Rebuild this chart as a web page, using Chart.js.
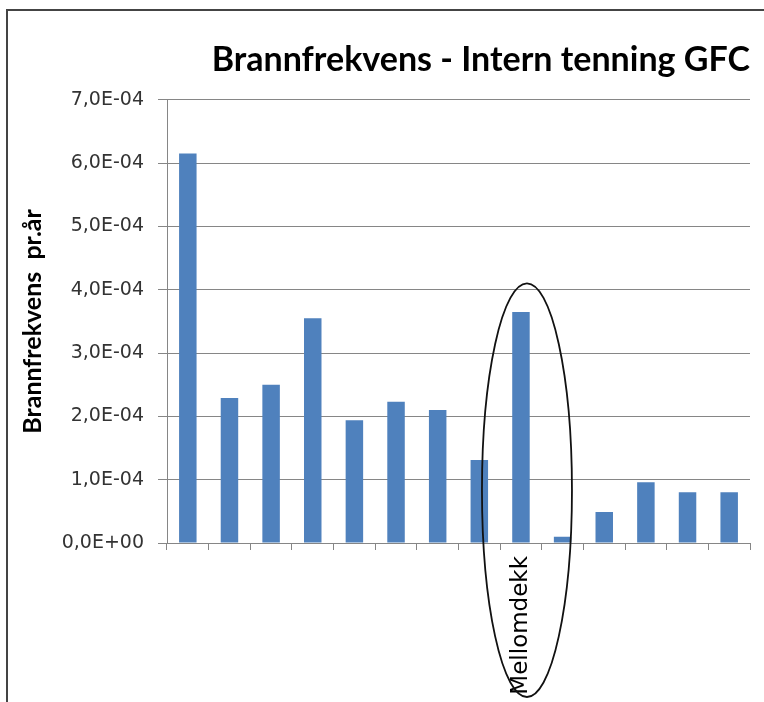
<!DOCTYPE html>
<html>
<head>
<meta charset="utf-8">
<script src="https://cdn.jsdelivr.net/npm/chart.js@4"></script>
<style>
  html, body { margin: 0; padding: 0; background: #fff; overflow: hidden; }
  #wrap { position: relative; width: 764px; height: 702px; overflow: hidden; }
  #frame { position: absolute; left: 6px; top: 9px; width: 800px; height: 800px; border: 2px solid #444; }
  canvas { position: absolute; left: 0; top: 0; }
</style>
</head>
<body>
<div id="wrap">
  <div id="frame"></div>
  <canvas id="fireChart" width="764" height="702"></canvas>
</div>
<script>
const labels = ["", "", "", "", "", "", "", "", "Mellomdekk", "", "", "", "", ""];
const freq = [6.15e-4, 2.29e-4, 2.5e-4, 3.55e-4, 1.94e-4, 2.23e-4, 2.1e-4, 1.31e-4, 3.65e-4, 0.1e-4, 0.49e-4, 0.96e-4, 0.8e-4, 0.8e-4];
const yTicks = ["0,0E+00", "1,0E-04", "2,0E-04", "3,0E-04", "4,0E-04", "5,0E-04", "6,0E-04", "7,0E-04"];

// ring drawn around the Mellomdekk bar
const ellipsePlugin = {
  id: "ellipse",
  afterDraw(chart) {
    const x = chart.scales.x, y = chart.scales.y;
    const c = chart.ctx;
    const cx = x.getPixelForValue(8) + 6;
    const top = y.getPixelForValue(4.1e-4);
    const bottom = 697;
    c.save();
    c.beginPath();
    c.ellipse(cx, (top + bottom) / 2, 45, (bottom - top) / 2, 0, 0, Math.PI * 2);
    c.strokeStyle = "#111";
    c.lineWidth = 1.8;
    c.stroke();
    c.restore();
  }
};

const ctx = document.getElementById("fireChart").getContext("2d");
new Chart(ctx, {
  type: "bar",
  data: {
    labels: labels,
    datasets: [{
      data: freq,
      backgroundColor: "#4F81BD",
      categoryPercentage: 1,
      barPercentage: 0.42,
    }],
  },
  options: {
    responsive: false,
    animation: false,
    layout: { padding: { left: 0, right: 14, top: 0, bottom: 0 } },
    plugins: {
      legend: { display: false },
      tooltip: { enabled: false },
      title: {
        display: true,
        text: "Brannfrekvens - Intern tenning GFC",
        align: "end",
        color: "#000",
        font: { family: "Lato", size: 34, weight: "bold" },
        padding: { top: 40, bottom: 19 },
      },
    },
    scales: {
      x: {
        grid: { drawOnChartArea: false, color: "#868686", tickLength: 7 },
        border: { color: "#868686" },
        ticks: {
          autoSkip: false,
          maxRotation: 90,
          minRotation: 90,
          padding: 6,
          color: "#000",
          font: { family: "DejaVu Sans", size: 23 },
        },
        afterFit(scale) { scale.height = 159; },
      },
      y: {
        min: 0,
        max: 7e-4,
        grid: { color: "#868686", tickLength: 9 },
        border: { color: "#868686" },
        ticks: {
          stepSize: 1e-4,
          padding: 14,
          color: "#333",
          font: { family: "DejaVu Sans", size: 19 },
          callback: function (value, index) { return yTicks[index]; },
        },
        title: {
          display: true,
          text: "Brannfrekvens  pr.år",
          color: "#000",
          font: { family: "Lato", size: 25, weight: "bold" },
          padding: { top: 18, bottom: 0 },
        },
        afterFit(scale) { scale.width = 167; },
      },
    },
  },
  plugins: [ellipsePlugin],
});
</script>
</body>
</html>
